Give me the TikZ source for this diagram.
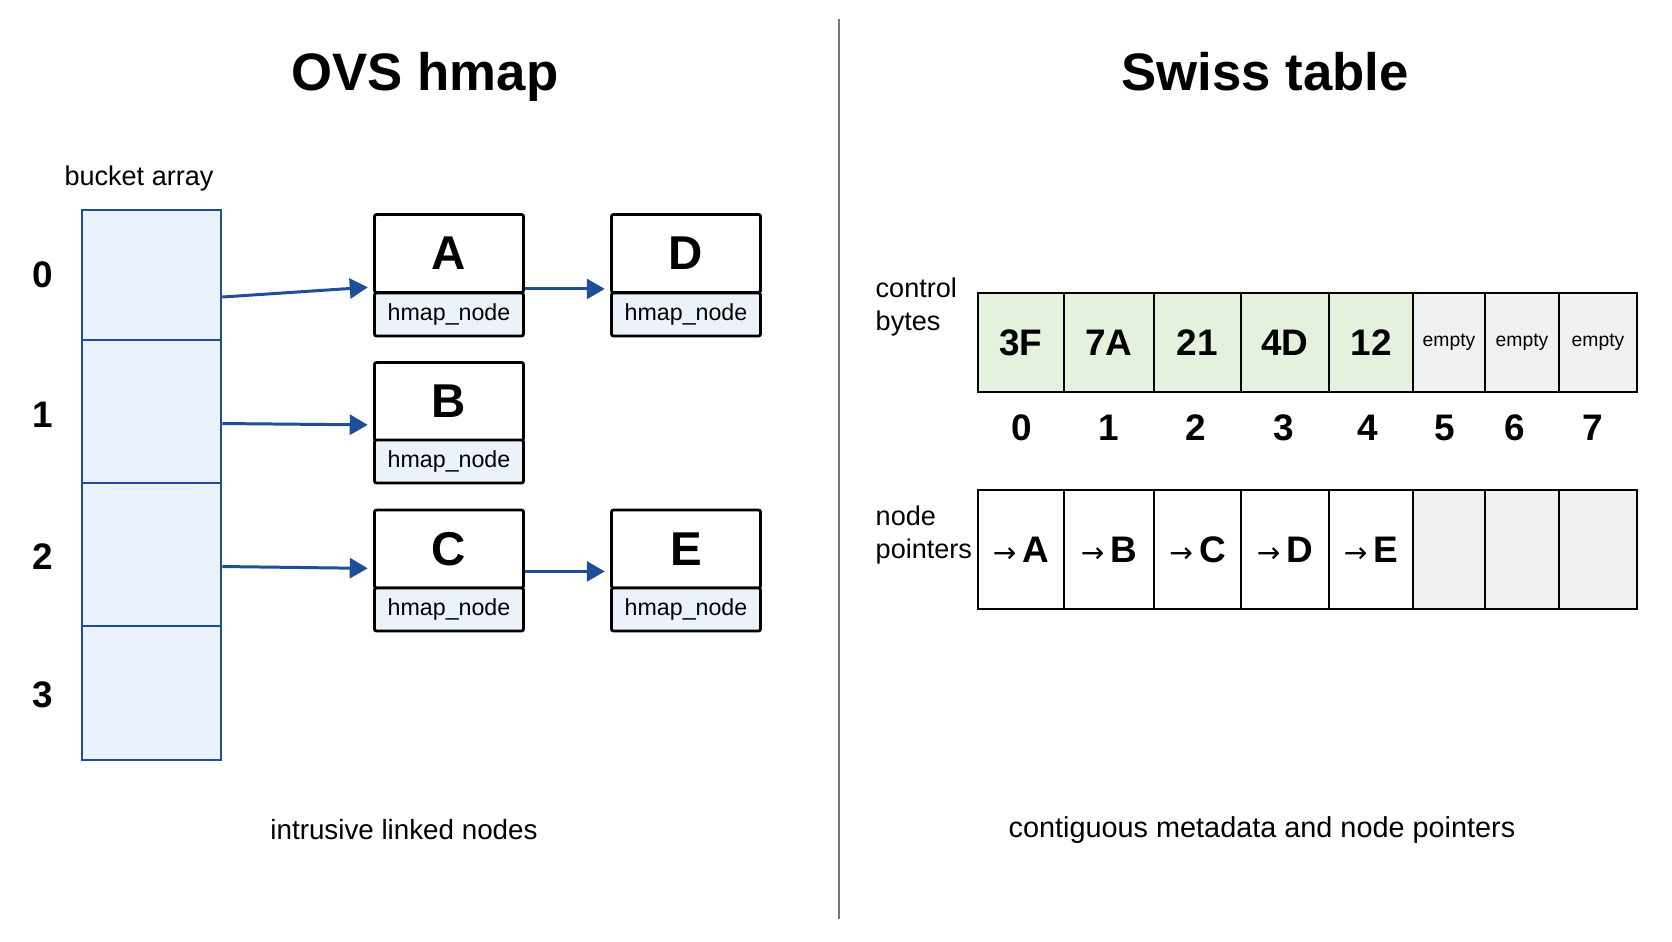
\documentclass[tikz,border=0pt]{standalone}
\usepackage{fontspec}
\setmainfont{Liberation Sans}
\newfontfamily\arrowfont{DejaVu Sans}
\usepackage{xcolor}
\usetikzlibrary{arrows.meta}
\definecolor{bucketblue}{RGB}{31,78,153}
\definecolor{bucketfill}{RGB}{234,243,253}
\definecolor{tagfill}{RGB}{236,242,250}
\definecolor{usedgreen}{RGB}{228,241,221}
\definecolor{freegray}{RGB}{241,241,241}
\definecolor{rulegray}{RGB}{120,120,120}
\tikzset{every edge/.style={draw,
		-{Triangle[length=1.8mm,width=2mm]},line width=0.85pt,draw=bucketblue,fill=bucketblue}}
\tikzstyle{bucket}=[rectangle,draw=bucketblue,fill=bucketfill,line width=0.7pt,minimum width=1.39cm,inner sep=0pt]
\tikzstyle{entry}=[rectangle,draw=black,fill=white,line width=0.8pt,rounded corners=0.6pt,minimum width=1.49cm,minimum height=0.78cm,inner sep=0pt,font=\fontsize{13.5}{16}\selectfont\bfseries]
\tikzstyle{tag}=[rectangle,draw=black,fill=tagfill,line width=0.8pt,rounded corners=0.6pt,minimum width=1.49cm,minimum height=0.43cm,inner sep=0pt,font=\fontsize{6.6}{8}\selectfont]
\tikzstyle{idx}=[font=\fontsize{10.5}{12}\selectfont\bfseries]
\tikzstyle{used}=[rectangle,draw=black,fill=usedgreen,line width=0.8pt,minimum height=0.99cm,inner sep=0pt,font=\fontsize{10.5}{12}\selectfont\bfseries]
\tikzstyle{free}=[rectangle,draw=black,fill=freegray,line width=0.8pt,minimum height=0.99cm,inner sep=0pt,font=\fontsize{5.5}{6.5}\selectfont]
\tikzstyle{ptr}=[rectangle,draw=black,fill=white,line width=0.8pt,minimum height=1.19cm,inner sep=0pt,font=\fontsize{10.5}{12}\selectfont\bfseries]
\tikzstyle{noptr}=[rectangle,draw=black,fill=freegray,line width=0.8pt,minimum height=1.19cm,inner sep=0pt]
\tikzstyle{caption}=[font=\fontsize{7.7}{9.6}\selectfont,align=left,inner sep=0pt]
\tikzstyle{heading}=[font=\fontsize{15}{18}\selectfont\bfseries,anchor=base]
\newcommand{\pto}[1]{{\arrowfont\mdseries\fontsize{8}{10}\selectfont →}\,#1}

\begin{document}
\begin{tikzpicture}[x=0.01cm,y=-0.01cm]
	\useasboundingbox[fill=white] (0,0) rectangle (1672,941);
	% titles and divider
	\node at (425,90) [heading] (t1) {OVS hmap};
	\node at (1265,90) [heading] (t2) {Swiss table};
	\coordinate (top) at (839,19);
	\coordinate (bot) at (839,919);
	\draw[rulegray,line width=0.6pt] (top) -- (bot);
	% OVS hmap side
	\node at (139,178) [caption] (ba) {bucket array};
	\node at (151.5,275) [bucket,minimum height=1.30cm] (b0) {};
	\node at (151.5,411.5) [bucket,minimum height=1.43cm] (b1) {};
	\node at (151.5,554.5) [bucket,minimum height=1.43cm] (b2) {};
	\node at (151.5,693) [bucket,minimum height=1.34cm] (b3) {};
	\node at (43,275) [idx] (i0) {0};
	\node at (43,415) [idx] (i1) {1};
	\node at (43,557) [idx] (i2) {2};
	\node at (43,695) [idx] (i3) {3};
	\node at (449,253.5) [entry] (A) {A};
	\node at (449,314.5) [tag] (Atag) {hmap\_node};
	\node at (686,253.5) [entry] (D) {D};
	\node at (686,314.5) [tag] (Dtag) {hmap\_node};
	\node at (449,401.5) [entry] (B) {B};
	\node at (449,461.5) [tag] (Btag) {hmap\_node};
	\node at (449,549) [entry] (C) {C};
	\node at (449,609.5) [tag] (Ctag) {hmap\_node};
	\node at (686,549) [entry] (E) {E};
	\node at (686,609.5) [tag] (Etag) {hmap\_node};
	\draw ([yshift=-2.2mm]b0.east) edge[shorten >=1.5pt] ([yshift=0.7mm]A.south west);
	\draw ([yshift=-1.2mm]b1.east) edge[shorten >=1.5pt] ([yshift=1.7mm]B.south west);
	\draw ([yshift=-1.2mm]b2.east) edge[shorten >=1.5pt] ([yshift=2.1mm]C.south west);
	\draw ([yshift=0.5mm]A.south east) edge[shorten >=1.5pt] ([yshift=0.5mm]D.south west);
	\draw ([yshift=1.8mm]C.south east) edge[shorten >=1.5pt] ([yshift=1.8mm]E.south west);
	\node at (404,830) [caption,font=\fontsize{7.9}{9.6}\selectfont] (cap1) {intrusive linked nodes};
	% Swiss table side
	\node at (875,307) [caption,anchor=west] (cb) {control\\bytes};
	\node at (1021,342.5) [used,minimum width=0.86cm] (c0) {3F};
	\node at (1109,342.5) [used,minimum width=0.90cm] (c1) {7A};
	\node at (1197.5,342.5) [used,minimum width=0.87cm] (c2) {21};
	\node at (1285,342.5) [used,minimum width=0.88cm] (c3) {4D};
	\node at (1371,342.5) [used,minimum width=0.84cm] (c4) {12};
	\node at (1449,342.5) [free,minimum width=0.72cm] (c5) {empty};
	\node at (1522,342.5) [free,minimum width=0.74cm] (c6) {empty};
	\node at (1598,342.5) [free,minimum width=0.78cm] (c7) {empty};
	\node at (1022,428) [idx] (n0) {0};
	\node at (1109,428) [idx] (n1) {1};
	\node at (1196,428) [idx] (n2) {2};
	\node at (1284,428) [idx] (n3) {3};
	\node at (1368,428) [idx] (n4) {4};
	\node at (1445,428) [idx] (n5) {5};
	\node at (1515,428) [idx] (n6) {6};
	\node at (1593,428) [idx] (n7) {7};
	\node at (875,535) [caption,anchor=west] (np) {node\\pointers};
	\node at (1021,549.5) [ptr,minimum width=0.86cm] (p0) {\pto{A}};
	\node at (1109,549.5) [ptr,minimum width=0.90cm] (p1) {\pto{B}};
	\node at (1197.5,549.5) [ptr,minimum width=0.87cm] (p2) {\pto{C}};
	\node at (1285,549.5) [ptr,minimum width=0.88cm] (p3) {\pto{D}};
	\node at (1371,549.5) [ptr,minimum width=0.84cm] (p4) {\pto{E}};
	\node at (1449,549.5) [noptr,minimum width=0.72cm] (p5) {};
	\node at (1522,549.5) [noptr,minimum width=0.74cm] (p6) {};
	\node at (1598,549.5) [noptr,minimum width=0.78cm] (p7) {};
	\node at (1262,830) [caption,font=\fontsize{8.2}{9.6}\selectfont] (cap2) {contiguous metadata and node pointers};
\end{tikzpicture}
\end{document}
